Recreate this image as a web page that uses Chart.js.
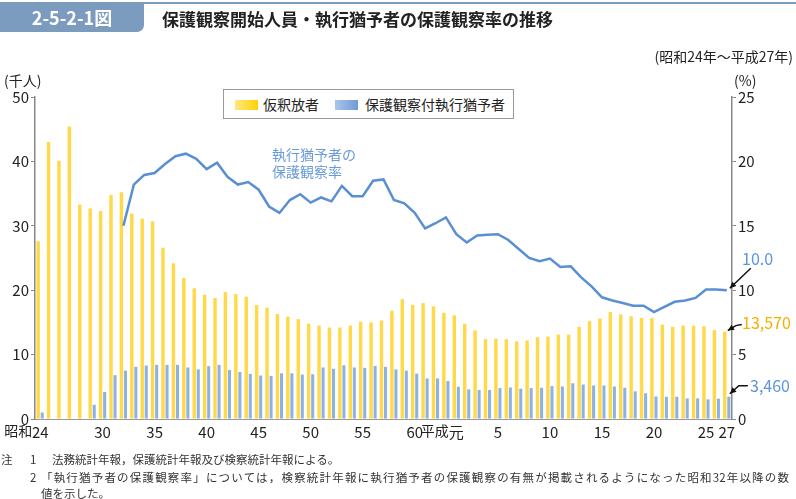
<!DOCTYPE html>
<html>
<head>
<meta charset="utf-8">
<script src="https://cdn.jsdelivr.net/npm/chart.js@4/dist/chart.umd.min.js"></script>
<style>
  body { margin: 0; background: #fff; font-family: 'Noto Sans CJK JP', sans-serif; color: #222; }
  #wrap { position: relative; width: 796px; height: 499px; overflow: hidden; }
  canvas { position: absolute; left: 0; top: 0; }
  .abs { position: absolute; white-space: nowrap; }
  .topline { left: 0; top: 2px; width: 796px; height: 2px; background: #7b9bbf; }
  .tab { left: 0; top: 2px; width: 144px; height: 30px; background: #7b9bbf; border-bottom-right-radius: 7px;
         color: #fff; font-weight: bold; font-size: 18px; line-height: 30px; text-align: center; }
  .title { left: 162px; top: 5px; font-size: 17px; font-weight: bold; line-height: 28px; }
  .sub { right: 3px; top: 46px; font-size: 14px; line-height: 20px; }
  .unit { font-size: 14px; line-height: 20px; top: 70px; }
  .legend { left: 223px; top: 89px; width: 289px; height: 28px; border: 1px solid #999; background: #fff; }
  .sw { position: absolute; top: 10px; width: 23px; height: 10px; }
  .lt { position: absolute; top: 4px; font-size: 14px; line-height: 20px; }
  .ann { color: #6a9bd8; font-size: 14px; line-height: 17px; }
  .val { font-size: 16px; line-height: 20px; }
  .note { font-size: 11.5px; line-height: 16px; color: #333; }
</style>
</head>
<body>
<div id="wrap">
  <canvas id="chart" width="796" height="499"></canvas>
  <div class="abs topline"></div>
  <div class="abs tab">2-5-2-1図</div>
  <div class="abs title">保護観察開始人員・執行猶予者の保護観察率の推移</div>
  <div class="abs sub">(昭和24年～平成27年)</div>
  <div class="abs unit" style="left:4px">(千人)</div>
  <div class="abs unit" style="left:734px">(%)</div>
  <div class="abs legend">
    <div class="sw" style="left:11px;background:linear-gradient(to right,#ffe784,#ffd200)"></div>
    <div class="lt" style="left:39px">仮釈放者</div>
    <div class="sw" style="left:111px;background:linear-gradient(to right,#aac6ec,#6f9ad6)"></div>
    <div class="lt" style="left:141px">保護観察付執行猶予者</div>
  </div>
  <div class="abs ann" style="left:272px;top:146px">執行猶予者の<br>保護観察率</div>
  <div class="abs val" style="left:742px;top:248px;color:#5b95db">10.0</div>
  <div class="abs val" style="left:742px;top:312px;color:#f4b000">13,570</div>
  <div class="abs val" style="left:750px;top:375px;color:#5b95db">3,460</div>
  <div class="abs note" style="left:1px;top:451px">注</div>
  <div class="abs note" style="left:30px;top:451px">1</div>
  <div class="abs note" style="left:52px;top:451px">法務統計年報，保護統計年報及び検察統計年報による。</div>
  <div class="abs note" style="left:30px;top:469px">2</div>
  <div class="abs note" style="left:41px;top:469px;width:748px;text-align:justify;text-align-last:justify;white-space:normal">「執行猶予者の保護観察率」については，検察統計年報に執行猶予者の保護観察の有無が掲載されるようになった昭和32年以降の数</div>
  <div class="abs note" style="left:41px;top:485px">値を示した。</div>
</div>
<script>
const categories = [
  '昭和24','昭和25','昭和26','昭和27','昭和28','昭和29','昭和30','昭和31','昭和32','昭和33',
  '昭和34','昭和35','昭和36','昭和37','昭和38','昭和39','昭和40','昭和41','昭和42','昭和43',
  '昭和44','昭和45','昭和46','昭和47','昭和48','昭和49','昭和50','昭和51','昭和52','昭和53',
  '昭和54','昭和55','昭和56','昭和57','昭和58','昭和59','昭和60','昭和61','昭和62','昭和63',
  '平成元','平成2','平成3','平成4','平成5','平成6','平成7','平成8','平成9','平成10',
  '平成11','平成12','平成13','平成14','平成15','平成16','平成17','平成18','平成19','平成20',
  '平成21','平成22','平成23','平成24','平成25','平成26','平成27'
];

const tickShown = ['昭和24','昭和30','昭和35','昭和40','昭和45','昭和50','昭和55','昭和60',
  '平成元','平成5','平成10','平成15','平成20','平成25','平成27'];

// 仮釈放者 (千人)
const paroled = [
  27.6, 43.0, 40.1, 45.4, 33.3, 32.7, 32.3, 34.8, 35.2, 31.9,
  31.1, 30.7, 26.6, 24.2, 21.9, 20.3, 19.3, 18.8, 19.7, 19.4,
  19.0, 17.7, 17.3, 16.3, 15.9, 15.5, 14.8, 14.5, 14.2, 14.2,
  14.5, 15.1, 15.0, 15.3, 16.8, 18.6, 17.7, 18.0, 17.5, 16.5,
  16.1, 14.8, 13.75, 12.4, 12.45, 12.4, 12.05, 12.2, 12.7, 12.8,
  13.1, 13.1, 14.3, 15.2, 15.6, 16.6, 16.25, 15.95, 15.7, 15.7,
  14.65, 14.3, 14.5, 14.5, 14.4, 13.8, 13.57
];

// 保護観察付執行猶予者 (千人)
const probation = [
  1.0, null, null, null, null, 2.2, 4.2, 6.8, 7.5, 8.1,
  8.3, 8.4, 8.4, 8.4, 8.0, 7.7, 8.2, 8.4, 7.6, 7.3,
  7.0, 6.75, 6.7, 7.1, 7.1, 6.9, 6.95, 8.0, 7.8, 8.35,
  8.0, 7.95, 8.25, 8.1, 7.7, 7.5, 7.05, 6.3, 6.3, 5.9,
  5.0, 4.6, 4.5, 4.5, 4.8, 4.9, 4.7, 4.8, 4.85, 5.1,
  5.05, 5.55, 5.35, 5.2, 5.2, 5.05, 4.85, 4.3, 4.0, 3.5,
  3.45, 3.45, 3.2, 3.2, 3.05, 3.15, 3.46
];

// 執行猶予者の保護観察率 (%)
const rate = [
  null, null, null, null, null, null, null, null, 15.0, 18.2,
  18.95, 19.1, 19.8, 20.4, 20.6, 20.2, 19.4, 19.9, 18.8, 18.2,
  18.4, 17.8, 16.5, 16.0, 17.0, 17.45, 16.8, 17.2, 16.9, 18.1,
  17.3, 17.3, 18.5, 18.6, 17.0, 16.75, 16.0, 14.8, 15.2, 15.65,
  14.35, 13.7, 14.25, 14.3, 14.35, 13.9, 13.2, 12.5, 12.25, 12.45,
  11.8, 11.85, 11.0, 10.3, 9.45, 9.2, 9.0, 8.8, 8.8, 8.3,
  8.7, 9.1, 9.2, 9.4, 10.05, 10.05, 10.0
];

const FONT = "'Noto Sans CJK JP', sans-serif";
Chart.defaults.font.family = FONT;
Chart.defaults.color = '#222';

function arrow(ctx, pts) {
  ctx.beginPath();
  ctx.moveTo(pts[0][0], pts[0][1]);
  for (let i = 1; i < pts.length; i++) ctx.lineTo(pts[i][0], pts[i][1]);
  ctx.stroke();
  const [x1, y1] = pts[pts.length - 2];
  const [x2, y2] = pts[pts.length - 1];
  const a = Math.atan2(y2 - y1, x2 - x1);
  ctx.beginPath();
  ctx.moveTo(x2, y2);
  ctx.lineTo(x2 - 7 * Math.cos(a - 0.45), y2 - 7 * Math.sin(a - 0.45));
  ctx.lineTo(x2 - 7 * Math.cos(a + 0.45), y2 - 7 * Math.sin(a + 0.45));
  ctx.closePath();
  ctx.fill();
}

const extras = {
  id: 'extras',
  afterDraw(chart) {
    const ctx = chart.ctx;
    const x = chart.scales.x, y = chart.scales.y, y1 = chart.scales.y1;
    const last = categories.length - 1;

    // era prefixes next to the x tick labels
    ctx.save();
    ctx.fillStyle = '#222';
    ctx.textBaseline = 'middle';
    ctx.textAlign = 'right';
    ctx.font = '14px ' + FONT;
    ctx.fillText('昭和', x.getPixelForValue(0) - 8, 431);
    ctx.fillText('平成', x.getPixelForValue(categories.indexOf('平成元')) - 7.5, 431);

    // arrows to the latest values
    ctx.strokeStyle = '#111';
    ctx.fillStyle = '#111';
    ctx.lineWidth = 1.5;
    const xc = x.getPixelForValue(last);
    const yr = y1.getPixelForValue(rate[last]);
    arrow(ctx, [[xc + 24, yr - 22], [xc + 3, yr - 2]]);
    const yp = y.getPixelForValue(paroled[last]);
    arrow(ctx, [[xc + 15, yp - 7], [xc + 9, yp - 6], [xc + 1, yp - 1]]);
    const yb = y.getPixelForValue(probation[last]);
    arrow(ctx, [[xc + 21, yb - 11], [xc + 12, yb - 11], [xc + 3, yb - 3]]);
    ctx.restore();
  }
};

new Chart(document.getElementById('chart'), {
  type: 'bar',
  data: {
    labels: categories,
    datasets: [
      {
        label: '執行猶予者の保護観察率',
        type: 'line',
        data: rate,
        yAxisID: 'y1',
        borderColor: '#5a8fd3',
        borderWidth: 2.5,
        pointRadius: 0,
        tension: 0,
        spanGaps: false,
        order: 0
      },
      {
        label: '仮釈放者',
        data: paroled,
        backgroundColor: '#ffd94a',
        yAxisID: 'y',
        categoryPercentage: 0.78,
        barPercentage: 0.85,
        order: 1
      },
      {
        label: '保護観察付執行猶予者',
        data: probation,
        backgroundColor: '#8cb2e4',
        yAxisID: 'y',
        categoryPercentage: 0.78,
        barPercentage: 0.75,
        order: 1
      }
    ]
  },
  options: {
    responsive: false,
    devicePixelRatio: 1,
    animation: false,
    layout: { padding: { top: 97, left: 0, right: 0, bottom: 0 } },
    plugins: { legend: { display: false }, tooltip: { enabled: false } },
    scales: {
      x: {
        grid: { display: false, drawTicks: false },
        border: { display: true, color: '#999', width: 1 },
        ticks: {
          autoSkip: false,
          maxRotation: 0,
          padding: 4,
          font: { size: 15 },
          callback: function (val, idx) {
            const name = categories[idx];
            if (!tickShown.includes(name)) return '';
            if (name === '昭和24') return '24';
            if (name === '平成元') return '元';
            return name.slice(2);
          }
        },
        afterFit: function (scale) { scale.height = 80; }
      },
      y: {
        position: 'left',
        min: 0, max: 50,
        grid: { drawOnChartArea: false, drawTicks: true, tickLength: 4, color: '#888' },
        border: { display: true, color: '#888', width: 1.5 },
        ticks: { stepSize: 10, padding: 2, font: { size: 15 } },
        afterFit: function (scale) { scale.width = 35; }
      },
      y1: {
        position: 'right',
        min: 0, max: 25,
        grid: { drawOnChartArea: false, drawTicks: true, tickLength: 4, color: '#888' },
        border: { display: true, color: '#888', width: 1.5 },
        ticks: { stepSize: 5, padding: 2, font: { size: 15 } },
        afterFit: function (scale) { scale.width = 64; }
      }
    }
  },
  plugins: [extras]
});
</script>
</body>
</html>
